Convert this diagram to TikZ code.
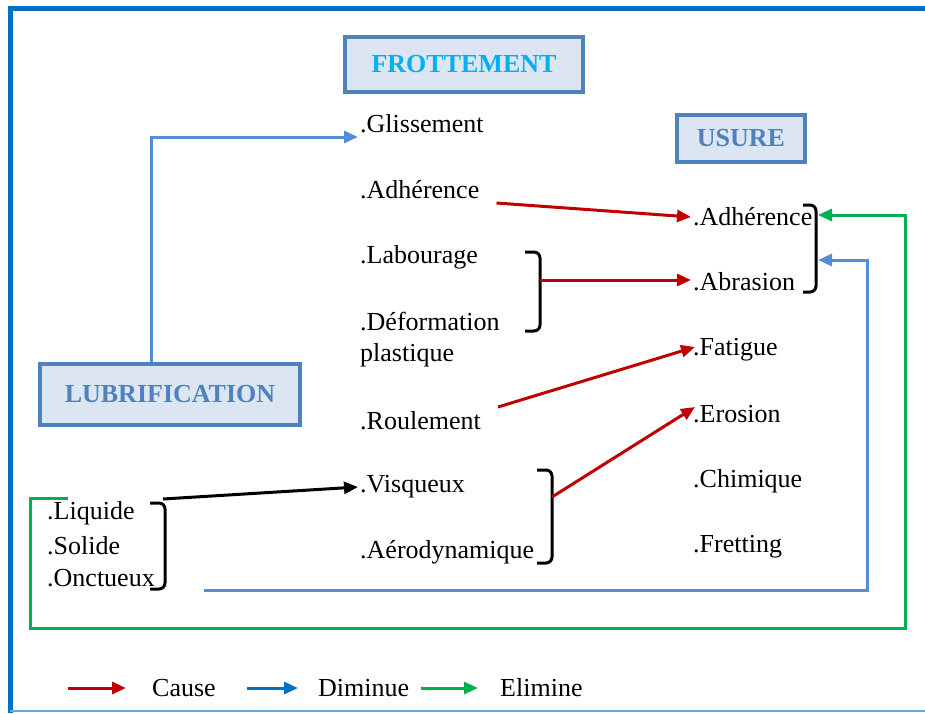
\documentclass[tikz,border=0pt]{standalone}
\usepackage{fontspec}
\setmainfont{Liberation Serif}
\usetikzlibrary{arrows.meta,calc}
\definecolor{causecol}{HTML}{C00000}
\definecolor{dimcol}{HTML}{558ED5}
\definecolor{elimcol}{HTML}{00B050}
\definecolor{boxline}{HTML}{4F81BD}
\definecolor{boxfill}{HTML}{DCE6F2}
\definecolor{framecol}{HTML}{0070C0}
\definecolor{titlecol}{HTML}{00B0F0}
\tikzset{
  item/.style={anchor=west, inner sep=2pt, font=\fontsize{26}{29}\selectfont},
  titlebox/.style={draw=boxline, line width=4pt, fill=boxfill, inner sep=0pt,
    font=\fontsize{26}{29}\selectfont\bfseries, text=boxline},
  tip/.style={-{Triangle[length=14pt,width=12pt]}},
  causearr/.style={tip, draw=causecol, line width=3pt},
  dimarr/.style={tip, draw=dimcol, line width=3pt},
  elimarr/.style={tip, draw=elimcol, line width=3pt},
  blackarr/.style={tip, draw=black, line width=3pt},
  brace/.style={draw=black, line width=3pt, rounded corners=6pt}
}
\begin{document}
\begin{tikzpicture}[x=1pt,y=-1pt]
  \useasboundingbox (0,0) rectangle (925,713);
  % frame
  \draw[framecol, line width=5pt] (10,713) -- (10,8) -- (925,8);
  \draw[framecol!60, line width=1.5pt] (10,711) -- (925,711);

  % boxes
  \node[titlebox, text=titlecol, minimum width=238pt, minimum height=55pt] (frot) at (464,64.5) {FROTTEMENT};
  \node[titlebox, minimum width=128pt, minimum height=47pt] (usure) at (741,138.5) {USURE};
  \node[titlebox, minimum width=260pt, minimum height=61pt] (lubri) at (170,394.5) {LUBRIFICATION};

  % frottement
  \node[item] (glis) at (358,124) {.Glissement};
  \node[item] (ladh) at (358,190) {.Adhérence};
  \node[item] (labo) at (358,257) {.Labourage};
  \node[item] (defo) at (358,322) {.Déformation};
  \node[item] (plas) at (358,355) {plastique};
  \node[item] (roul) at (358,421) {.Roulement};
  \node[item] (visq) at (358,487) {.Visqueux};
  \node[item] (aero) at (358,552) {.Aérodynamique};

  % usure
  \node[item] (radh) at (691,217) {.Adhérence};
  \node[item] (rabr) at (691,282) {.Abrasion};
  \node[item] (rfat) at (691,350) {.Fatigue};
  \node[item] (rero) at (691,414) {.Erosion};
  \node[item] (rchi) at (691,481) {.Chimique};
  \node[item] (rfre) at (691,547) {.Fretting};

  % lubrifiants
  \node[item] (liq) at (45,513) {.Liquide};
  \node[item] (sol) at (45,546) {.Solide};
  \node[item] (onc) at (45,578) {.Onctueux};

  % accolades
  \draw[brace] (525,252) -- (540,252) -- (540,331) -- (525,331);
  \coordinate (br1) at (540,280);
  \draw[brace] (537,470) -- (552,470) -- (552,563) -- (537,563);
  \coordinate (br2) at (552,497);
  \draw[brace] (803,205) -- (816,205) -- (816,292) -- (803,292);
  \coordinate (usA) at (818,215);
  \coordinate (usB) at (818,260);
  \draw[brace] (150,503) -- (165,503) -- (165,589) -- (150,589);
  \coordinate (br3) at (163,499);

  % liens
  \draw[dimarr] ([xshift=-19pt]lubri.north) |- ($(glis.west)+(0,13)$);
  \draw[causearr] ($(ladh.east)+(15,13)$) -- (radh.west);
  \draw[causearr] (br1) -- (rabr.west |- br1);
  \draw[causearr] ($(roul.east)+(15,-14)$) -- ($(rfat.west)+(4,-3)$);
  \draw[causearr] (br2) -- ($(rero.west)+(4,-7)$);
  \draw[blackarr] (br3) -- (visq.west);
  \coordinate (bas) at (204,590);
  \draw[dimarr] (bas) -| ([xshift=49pt]usB) -- (usB);
  \coordinate (vert) at (68,498);
  \draw[elimarr] (vert) -- ++(-38,0) -- ++(0,130) -- ++(875,0) |- (usA);

  % legende
  \coordinate (l1) at (68,688);
  \coordinate (l2) at (247,688);
  \coordinate (l3) at (421,688);
  \draw[causearr] (l1) -- ++(58,0);
  \node[item] (cause) at (150,688) {Cause};
  \draw[dimarr, draw=framecol] (l2) -- ++(51,0);
  \node[item] (dimi) at (316,688) {Diminue};
  \draw[elimarr] (l3) -- ++(57,0);
  \node[item] (elim) at (498,688) {Elimine};
\end{tikzpicture}
\end{document}
